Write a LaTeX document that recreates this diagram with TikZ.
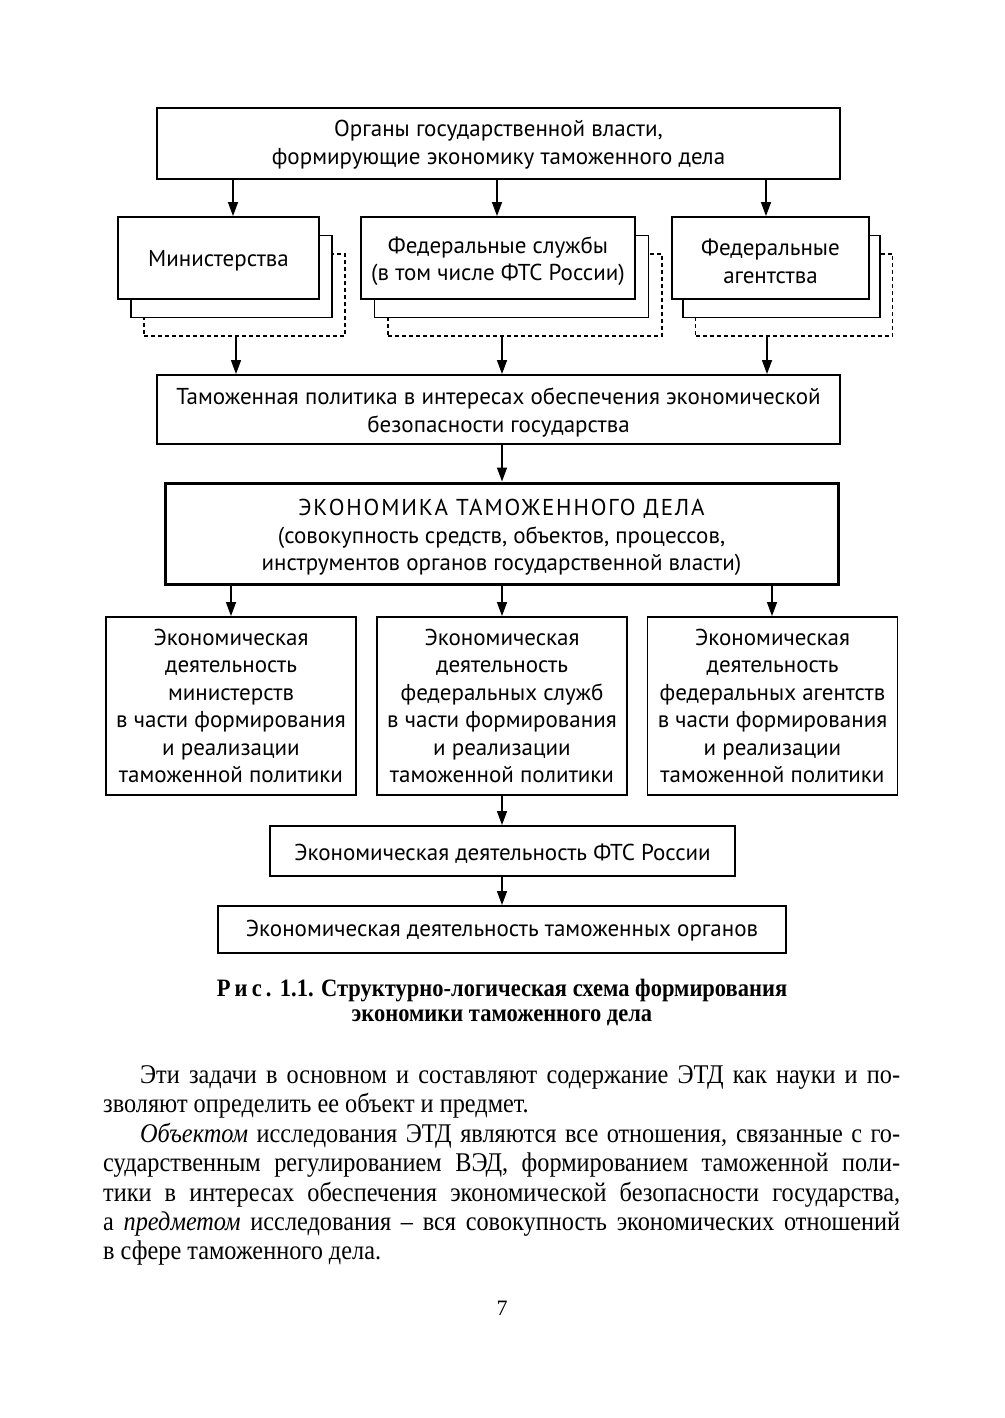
\documentclass[tikz,border=0pt]{standalone}
\usepackage{fontspec}
\setmainfont{Liberation Serif}
\newfontfamily\diag{PT Sans}
\newfontfamily\bodyf[FakeStretch=0.9]{Liberation Serif}
\usetikzlibrary{arrows.meta}
\newcommand{\lowr}[1]{\rule{0pt}{#1pt}}
\begin{document}
\begin{tikzpicture}[x=1pt,y=-1pt,
  box/.style={draw, line width=1.9pt, fill=white, align=center, inner sep=0pt,
    font={\diag\fontsize{23}{27.5}\selectfont}},
  thickbox/.style={box, line width=3pt},
  backbox/.style={draw, line width=1.9pt, fill=white, inner sep=0pt},
  dashbox/.style={draw, line width=1.3pt, dash pattern=on 4pt off 3pt, fill=white, inner sep=0pt},
  conn/.style={line width=1.4pt, -{Triangle[length=14pt,width=10pt]}},
  bodyline/.style={anchor=base west, inner sep=0pt, font={\bodyf\fontsize{27}{29.5}\selectfont}},
  captext/.style={inner sep=0pt, font={\bodyf\bfseries\fontsize{25}{27}\selectfont}}
]
\useasboundingbox (0,0) rectangle (1004,1418);

% top box
\node[box, minimum width=683pt, minimum height=71pt] (top) at (498.5,143.5)
  {\lowr{19}Органы государственной власти,\\формирующие экономику таможенного дела};

% ministries stack
\node[dashbox, minimum width=201pt, minimum height=82pt] (minD) at (244.5,295) {};
\node[backbox, minimum width=201pt, minimum height=82pt] (minB) at (231.5,276.5) {};
\node[box, minimum width=201pt, minimum height=82pt] (minF) at (218.5,258) {\lowr{22}Министерства};

% federal services stack
\node[dashbox, minimum width=274pt, minimum height=82pt] (fedD) at (525,295) {};
\node[backbox, minimum width=274pt, minimum height=82pt] (fedB) at (511.5,276.5) {};
\node[box, minimum width=274pt, minimum height=82pt] (fedF) at (498,258)
  {\lowr{23}Федеральные службы\\(в том числе ФТС России)};

% agencies stack
\node[dashbox, minimum width=197pt, minimum height=82pt] (agD) at (794,295) {};
\node[backbox, minimum width=197pt, minimum height=82pt] (agB) at (781.5,276.5) {};
\node[box, minimum width=197pt, minimum height=82pt] (agF) at (770.5,258)
  {\lowr{23}Федеральные\\агентства};

% policy
\node[box, minimum width=683pt, minimum height=69pt] (pol) at (498.5,409.5)
  {\lowr{23}Таможенная политика в интересах обеспечения экономической\\безопасности государства};

% economy
\node[thickbox, minimum width=673pt, minimum height=101pt] (eco) at (501.5,533.5)
  {\lowr{25}{\addfontfeature{LetterSpace=8}ЭКОНОМИКА ТАМОЖЕННОГО ДЕЛА}\\(совокупность средств, объектов, процессов,\\инструментов органов государственной власти)};

% three activity boxes
\node[box, minimum width=250pt, minimum height=178pt] (actA) at (231,706)
  {Экономическая\\деятельность\\министерств\\в части формирования\\и реализации\\таможенной политики};
\node[box, minimum width=250pt, minimum height=178pt] (actB) at (502,706)
  {Экономическая\\деятельность\\федеральных служб\\в части формирования\\и реализации\\таможенной политики};
\node[box, minimum width=250pt, minimum height=178pt] (actC) at (772.5,706)
  {Экономическая\\деятельность\\федеральных агентств\\в части формирования\\и реализации\\таможенной политики};

% FTS
\node[box, minimum width=465pt, minimum height=50pt] (fts) at (502.5,851)
  {\lowr{21}Экономическая деятельность ФТС России};
% customs bodies
\node[box, minimum width=568pt, minimum height=47pt] (cust) at (502,929.5)
  {\lowr{19}Экономическая деятельность таможенных органов};

% column coordinates
\coordinate (c1) at (233,0);
\coordinate (c2) at (497,0);
\coordinate (c3) at (766,0);
\coordinate (d1) at (236,0);
\coordinate (d2) at (502,0);
\coordinate (d3) at (767,0);
\coordinate (e1) at (231,0);
\coordinate (e3) at (772,0);

% connectors
\draw[conn] (top.south -| c1) -- (minF.north -| c1);
\draw[conn] (top.south -| c2) -- (fedF.north -| c2);
\draw[conn] (top.south -| c3) -- (agF.north -| c3);
\draw[conn] (minD.south -| d1) -- (pol.north -| d1);
\draw[conn] (fedD.south -| d2) -- (pol.north -| d2);
\draw[conn] (agD.south -| d3) -- (pol.north -| d3);
\draw[conn] (pol.south -| d2) -- (eco.north -| d2);
\draw[conn] (eco.south -| e1) -- (actA.north -| e1);
\draw[conn] (eco.south -| d2) -- (actB.north -| d2);
\draw[conn] (eco.south -| e3) -- (actC.north -| e3);
\draw[conn] (actB.south -| d2) -- (fts.north -| d2);
\draw[conn] (fts.south -| d2) -- (cust.north -| d2);

% caption
\node[captext] (cap1) at (502,990.5) {Р\,и\,с\,.\,\,1.1. Структурно-логическая схема формирования};
\node[captext] (cap2) at (502,1017.5) {экономики таможенного дела};

% body text
\node[bodyline] (l1) at (140,1083) {\makebox[760pt][s]{Эти задачи в основном и составляют содержание ЭТД как науки и по-}};
\node[bodyline] (l2) at (103,1112) {зволяют определить ее объект и предмет.};
\node[bodyline] (l3) at (140,1142) {\makebox[760pt][s]{\textit{Объектом} исследования ЭТД являются все отношения, связанные с го-}};
\node[bodyline] (l4) at (103,1171) {\makebox[797pt][s]{сударственным регулированием ВЭД, формированием таможенной поли-}};
\node[bodyline] (l5) at (103,1201) {\makebox[797pt][s]{тики в интересах обеспечения экономической безопасности государства,}};
\node[bodyline] (l6) at (103,1230) {\makebox[797pt][s]{а \textit{предметом} исследования – вся совокупность экономических отношений}};
\node[bodyline] (l7) at (103,1259) {в сфере таможенного дела.};

% page number
\node[inner sep=0pt, font={\fontsize{22}{26}\selectfont}] (pnum) at (502,1308) {7};
\end{tikzpicture}
\end{document}
